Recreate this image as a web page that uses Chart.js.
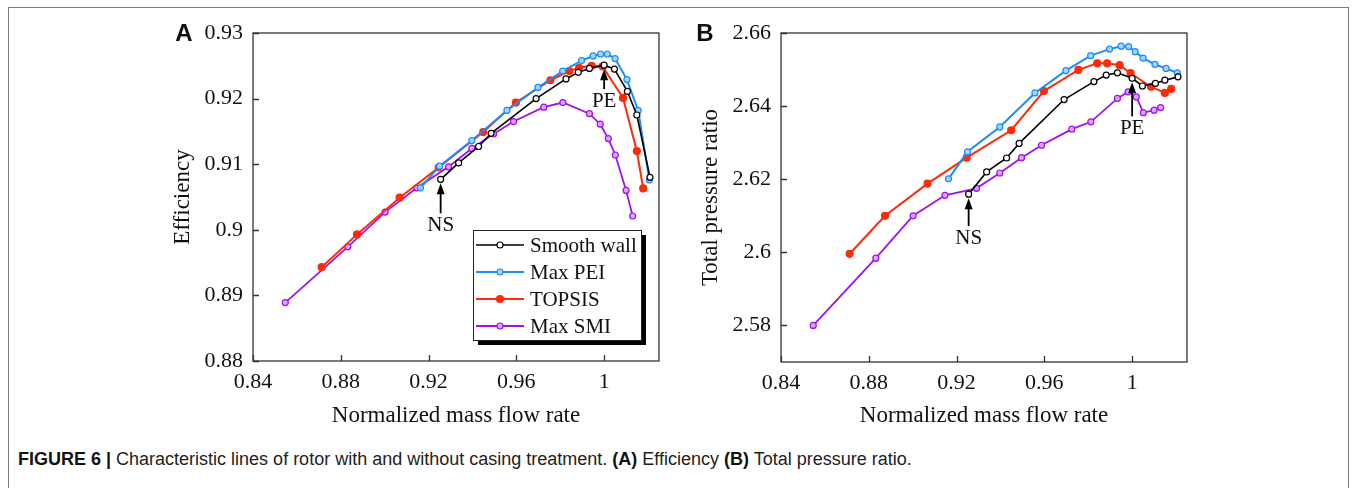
<!DOCTYPE html>
<html>
<head>
<meta charset="utf-8">
<script src="https://cdn.jsdelivr.net/npm/chart.js@4.4.1/dist/chart.umd.min.js"></script>
<style>
  body { margin: 0; background: #fff; width: 1356px; height: 488px; overflow: hidden; position: relative; }
  .frame { position: absolute; left: 8px; top: 7px; width: 1339px; height: 520px; border: 1px solid #7a7a7a; }
  #chartA { position: absolute; left: 0; top: 0; }
  #chartB { position: absolute; left: 680px; top: 0; }
  .caption { position: absolute; left: 18px; top: 449px; font: 18px "Liberation Sans", Arial, sans-serif; color: #222; white-space: nowrap; }
  .caption b { color: #111; }
</style>
</head>
<body>
<div class="frame"></div>
<canvas id="chartA" width="680" height="440"></canvas>
<canvas id="chartB" width="676" height="440"></canvas>
<div class="caption"><b>FIGURE 6 |</b> Characteristic lines of rotor with and without casing treatment. <b>(A)</b> Efficiency <b>(B)</b> Total pressure ratio.</div>
<script>
// normalized mass flow rate for each configuration
const flowSmooth = [0.9255, 0.9337, 0.9428, 0.9485, 0.9690, 0.9826, 0.9882, 0.9933, 1.0, 1.0047, 1.0106, 1.0149, 1.0209];
const flowPEI = [0.9163, 0.9250, 0.9397, 0.9557, 0.9698, 0.9811, 0.9897, 0.9950, 0.9984, 1.0014, 1.0050, 1.0104, 1.0155, 1.0206];
const flowTOPSIS = [0.8713, 0.8874, 0.9068, 0.9246, 0.9449, 0.9598, 0.9755, 0.9841, 0.9886, 0.9943, 0.9993, 1.0086, 1.0149, 1.0178];
const flowSMI = [0.8547, 0.8832, 0.9002, 0.9147, 0.9291, 0.9397, 0.9496, 0.9587, 0.9725, 0.9812, 0.9933, 0.9982, 1.0019, 1.0051, 1.0100, 1.0130];

// (A) efficiency
const effSmooth = [0.9077, 0.9102, 0.9127, 0.9147, 0.9200, 0.9230, 0.9240, 0.9246, 0.9251, 0.9245, 0.9211, 0.9175, 0.9080];
const effPEI = [0.9064, 0.9097, 0.9136, 0.9182, 0.9217, 0.9242, 0.9258, 0.9265, 0.9268, 0.9268, 0.9261, 0.9229, 0.9182, 0.9076];
const effTOPSIS = [0.8943, 0.8993, 0.9049, 0.9095, 0.9149, 0.9194, 0.9228, 0.9242, 0.9247, 0.9250, 0.9249, 0.9201, 0.9120, 0.9063];
const effSMI = [0.8889, 0.8974, 0.9027, 0.9064, 0.9096, 0.9124, 0.9146, 0.9165, 0.9187, 0.9194, 0.9177, 0.9161, 0.9139, 0.9114, 0.9060, 0.9021];

// (B) total pressure ratio
const prSmooth = [2.6159, 2.6220, 2.6258, 2.6298, 2.6418, 2.6467, 2.6485, 2.6491, 2.6476, 2.6455, 2.6462, 2.6471, 2.6480];
const prPEI = [2.6201, 2.6275, 2.6343, 2.6436, 2.6497, 2.6538, 2.6556, 2.6564, 2.6563, 2.6549, 2.6531, 2.6514, 2.6503, 2.6491];
const prTOPSIS = [2.5996, 2.6100, 2.6188, 2.6259, 2.6334, 2.6441, 2.6499, 2.6517, 2.6517, 2.6512, 2.6490, 2.6453, 2.6436, 2.6447];
const prSMI = [2.5800, 2.5984, 2.6100, 2.6156, 2.6175, 2.6217, 2.6259, 2.6293, 2.6337, 2.6357, 2.6421, 2.6439, 2.6425, 2.6382, 2.6389, 2.6396];

const seriesNames = ["Smooth wall", "Max PEI", "TOPSIS", "Max SMI"];
const flowTicks = [0.84, 0.88, 0.92, 0.96, 1];
const effTicks = [0.88, 0.89, 0.9, 0.91, 0.92, 0.93];
const prTicks = [2.58, 2.6, 2.62, 2.64, 2.66];

Chart.defaults.font.family = '"Liberation Serif", "Times New Roman", serif';
Chart.defaults.color = "#111";

const styles = [
  { color: "#000000", fill: "#ffffff", r: 3, w: 1.6 },
  { color: "#1a8cff", fill: "#a8d4ff", r: 3, w: 2 },
  { color: "#ff2a0a", fill: "#ff2a0a", r: 3.5, w: 2 },
  { color: "#a010f0", fill: "#dca6ff", r: 3, w: 1.8 },
];

function pts(xs, ys) {
  return xs.map((x, i) => ({ x: x, y: ys[i] }));
}

function makeDatasets(ys) {
  const xs = [flowSmooth, flowPEI, flowTOPSIS, flowSMI];
  return ys.map((y, i) => ({
    label: seriesNames[i],
    data: pts(xs[i], y),
    borderColor: styles[i].color,
    backgroundColor: styles[i].fill,
    pointBackgroundColor: styles[i].fill,
    pointBorderColor: styles[i].color,
    pointBorderWidth: 1.2,
    pointRadius: styles[i].r,
    borderWidth: styles[i].w,
    tension: 0,
  }));
}

function drawArrow(ctx, x, tip, tail) {
  ctx.beginPath();
  ctx.moveTo(x, tail);
  ctx.lineTo(x, tip + 8);
  ctx.lineWidth = 1.8;
  ctx.strokeStyle = "#000";
  ctx.stroke();
  ctx.beginPath();
  ctx.moveTo(x, tip);
  ctx.lineTo(x - 4, tip + 11);
  ctx.lineTo(x + 4, tip + 11);
  ctx.closePath();
  ctx.fillStyle = "#000";
  ctx.fill();
}

const decor = {
  id: "decor",
  afterDraw(chart) {
    const o = chart.options.plugins.decor;
    const { ctx, chartArea: a, scales } = chart;
    const x = scales.x, y = scales.y;
    ctx.save();
    // frame
    ctx.strokeStyle = "#333";
    ctx.lineWidth = 1.3;
    ctx.strokeRect(a.left, a.top, a.right - a.left, a.bottom - a.top);
    // inward ticks
    ctx.beginPath();
    x.ticks.forEach(t => {
      const px = Math.round(x.getPixelForValue(t.value)) + 0.5;
      ctx.moveTo(px, a.bottom);
      ctx.lineTo(px, a.bottom - 6);
    });
    y.ticks.forEach(t => {
      const py = Math.round(y.getPixelForValue(t.value)) + 0.5;
      ctx.moveTo(a.left, py);
      ctx.lineTo(a.left + 6, py);
    });
    ctx.stroke();

    // axis titles
    ctx.fillStyle = "#111";
    ctx.font = o.titleSize + 'px "Liberation Serif"';
    ctx.textAlign = "center";
    ctx.textBaseline = "middle";
    ctx.fillText("Normalized mass flow rate", (a.left + a.right) / 2, 416);
    ctx.save();
    ctx.translate(o.yTitleX, (a.top + a.bottom) / 2);
    ctx.rotate(-Math.PI / 2);
    ctx.fillText(o.yTitle, 0, 0);
    ctx.restore();

    // panel letter
    ctx.font = 'bold 24px "Liberation Sans"';
    ctx.fillText(o.letter, o.letterX, 34);

    // NS / PE notes
    ctx.font = '21px "Liberation Serif"';
    o.notes.forEach(n => {
      const px = x.getPixelForValue(n.x);
      const py = y.getPixelForValue(n.y);
      drawArrow(ctx, px, py + 4, py + 4 + n.len);
      ctx.fillStyle = "#111";
      ctx.fillText(n.text, px, py + 4 + n.len + 12);
    });

    // legend
    if (o.legend) {
      const L = o.legend;
      ctx.fillStyle = "#000";
      ctx.fillRect(L.x + 5, L.y + 5, L.w, L.h);
      ctx.fillStyle = "#fff";
      ctx.fillRect(L.x, L.y, L.w, L.h);
      ctx.strokeStyle = "#222";
      ctx.lineWidth = 1;
      ctx.strokeRect(L.x + 0.5, L.y + 0.5, L.w, L.h);
      ctx.textAlign = "left";
      chart.data.datasets.forEach((d, i) => {
        const ry = L.y + 15 + i * 27;
        ctx.beginPath();
        ctx.moveTo(L.x + 3, ry);
        ctx.lineTo(L.x + 51, ry);
        ctx.strokeStyle = d.borderColor;
        ctx.lineWidth = d.borderWidth;
        ctx.stroke();
        ctx.beginPath();
        ctx.arc(L.x + 27, ry, d.pointRadius, 0, Math.PI * 2);
        ctx.fillStyle = d.pointBackgroundColor;
        ctx.fill();
        ctx.lineWidth = 1.2;
        ctx.stroke();
        ctx.fillStyle = "#111";
        ctx.font = '21px "Liberation Serif"';
        ctx.fillText(d.label, L.x + 57, ry + 1);
      });
    }
    ctx.restore();
  },
};

function makeChart(id, ys, yMin, yMax, yTicks, pad, xh, tickSize, decorOpts) {
  return new Chart(document.getElementById(id), {
    type: "line",
    data: { datasets: makeDatasets(ys) },
    options: {
      responsive: false,
      animation: false,
      layout: { padding: pad },
      plugins: { legend: { display: false }, tooltip: { enabled: false }, decor: decorOpts },
      scales: {
        x: {
          type: "linear",
          min: 0.84,
          max: 1.025,
          grid: { display: false, drawTicks: false },
          border: { display: false },
          afterBuildTicks: s => { s.ticks = flowTicks.map(v => ({ value: v })); },
          afterFit: s => { s.height = xh; },
          ticks: { padding: 8, font: { size: tickSize }, callback: v => String(v) },
        },
        y: {
          min: yMin,
          max: yMax,
          grid: { display: false, drawTicks: false },
          border: { display: false },
          afterBuildTicks: s => { s.ticks = yTicks.map(v => ({ value: v })); },
          afterFit: s => { s.width = 100; },
          ticks: { padding: 10, font: { size: tickSize }, callback: v => String(v) },
        },
      },
    },
    plugins: [decor],
  });
}

makeChart("chartA", [effSmooth, effPEI, effTOPSIS, effSMI], 0.88, 0.93, effTicks,
  { left: 153, right: 21, top: 33, bottom: 0 }, 79, 22, {
    yTitle: "Efficiency", yTitleX: 183, titleSize: 23, letter: "A", letterX: 184,
    notes: [
      { text: "NS", x: flowSmooth[0], y: effSmooth[0], len: 30 },
      { text: "PE", x: flowSmooth[8], y: effSmooth[8], len: 20 },
    ],
    legend: { x: 473, y: 230, w: 168, h: 110 },
  });

makeChart("chartB", [prSmooth, prPEI, prTOPSIS, prSMI], 2.57, 2.66, prTicks,
  { left: 1, right: 169, top: 33, bottom: 0 }, 78, 22, {
    yTitle: "Total pressure ratio", yTitleX: 31, titleSize: 23, letter: "B", letterX: 25,
    notes: [
      { text: "NS", x: flowSmooth[0], y: prSmooth[0], len: 28 },
      { text: "PE", x: flowSmooth[8], y: prSmooth[8], len: 34 },
    ],
    legend: null,
  });
</script>
</body>
</html>
